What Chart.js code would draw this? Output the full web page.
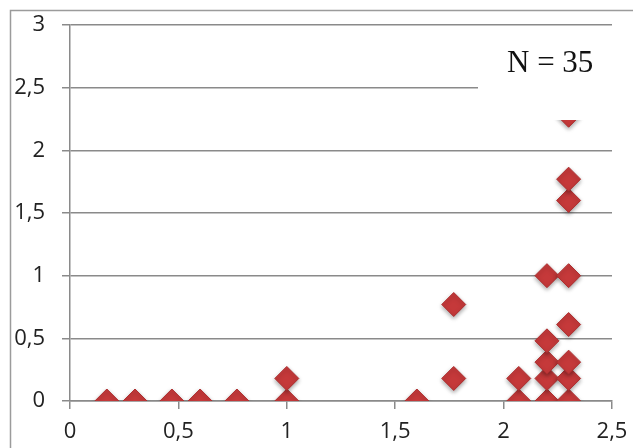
<!DOCTYPE html>
<html>
<head>
<meta charset="utf-8">
<script src="https://cdn.jsdelivr.net/npm/chart.js@4"></script>
<style>
  html, body { margin: 0; padding: 0; background: #fff; }
  #wrap { width: 633px; height: 448px; position: relative; }
</style>
</head>
<body>
<div id="wrap"><canvas id="chart" width="633" height="448"></canvas></div>
<script>
// values (N = 35, some points overlap)
const xValues = [0.17, 0.30, 0.47, 0.60, 0.77, 1.00, 1.60, 2.07, 2.20, 2.30,
                 1.00, 1.77, 2.07, 2.20, 2.30,
                 2.20, 2.30,
                 2.20,
                 2.30,
                 1.77,
                 2.20, 2.30,
                 2.30,
                 2.30,
                 2.30];
const yValues = [0, 0, 0, 0, 0, 0, 0, 0, 0, 0,
                 0.18, 0.18, 0.18, 0.18, 0.18,
                 0.31, 0.31,
                 0.48,
                 0.61,
                 0.77,
                 1.00, 1.00,
                 1.60,
                 1.77,
                 2.28];
const xTicks = [0, 0.5, 1, 1.5, 2, 2.5];
const yTicks = [0, 0.5, 1, 1.5, 2, 2.5, 3];
const noteText = 'N = 35';

document.addEventListener('DOMContentLoaded', () => {
    const canvas = document.getElementById('chart');
    const points = xValues.map((x, i) => ({ x: x, y: yValues[i] }));
    const comma = v => String(v).replace('.', ',');

    // grey frame around the whole chart, cut by the page edge
    const framePlugin = {
        id: 'frame',
        beforeDraw(chart) {
            const ctx = chart.ctx;
            ctx.save();
            ctx.strokeStyle = '#9b9b9b';
            ctx.lineWidth = 1.5;
            ctx.strokeRect(10.5, 10.5, 1000, 1000);
            ctx.restore();
        }
    };

    // soft shadow under the diamonds
    const shadowPlugin = {
        id: 'shadow',
        beforeDatasetsDraw(chart) {
            const ctx = chart.ctx;
            ctx.save();
            ctx.shadowColor = 'rgba(0,0,0,0.35)';
            ctx.shadowBlur = 4;
            ctx.shadowOffsetY = 2;
        },
        afterDatasetsDraw(chart) {
            chart.ctx.restore();
        }
    };

    // white text box with the sample size
    const notePlugin = {
        id: 'note',
        afterDatasetsDraw(chart) {
            const ctx = chart.ctx;
            ctx.save();
            ctx.fillStyle = '#fff';
            ctx.fillRect(478, 28, 160, 92);
            ctx.fillStyle = '#111';
            ctx.font = '31px "Liberation Serif"';
            ctx.textAlign = 'left';
            ctx.textBaseline = 'alphabetic';
            ctx.fillText(noteText, 507, 72);
            ctx.restore();
        }
    };

    new Chart(canvas, {
        type: 'scatter',
        data: {
            datasets: [{
                data: points,
                pointStyle: 'rectRot',
                pointRadius: 12,
                pointHoverRadius: 12,
                backgroundColor: '#c5393a',
                borderColor: '#ad2d2e',
                borderWidth: 1
            }]
        },
        options: {
            responsive: false,
            animation: false,
            layout: {
                padding: { top: 25, right: 21, left: 0, bottom: 0 }
            },
            plugins: {
                legend: { display: false },
                tooltip: { enabled: false }
            },
            scales: {
                x: {
                    type: 'linear',
                    min: 0,
                    max: 2.5,
                    afterBuildTicks: s => { s.ticks = xTicks.map(v => ({ value: v })); },
                    afterFit: s => {
                        s.height = 47;
                        s.paddingLeft = 0;
                        s.paddingRight = 0;
                    },
                    grid: {
                        drawOnChartArea: false,
                        drawTicks: true,
                        tickLength: 8,
                        color: '#8a8a8a',
                        lineWidth: 1.5
                    },
                    border: { color: '#8a8a8a', width: 1.5 },
                    ticks: {
                        padding: 10,
                        color: '#222',
                        font: { family: '"Open Sans"', size: 22 },
                        callback: comma
                    }
                },
                y: {
                    type: 'linear',
                    min: 0,
                    max: 3,
                    afterBuildTicks: s => { s.ticks = yTicks.map(v => ({ value: v })); },
                    afterFit: s => {
                        s.width = 70;
                        s.paddingTop = 0;
                        s.paddingBottom = 0;
                    },
                    grid: {
                        drawTicks: true,
                        tickLength: 8,
                        color: '#8a8a8a',
                        lineWidth: 1.5
                    },
                    border: { color: '#8a8a8a', width: 1.5 },
                    ticks: {
                        padding: 17,
                        color: '#222',
                        font: { family: '"Open Sans"', size: 22 },
                        callback: comma
                    }
                }
            }
        },
        plugins: [framePlugin, shadowPlugin, notePlugin]
    });
});
</script>
</body>
</html>
